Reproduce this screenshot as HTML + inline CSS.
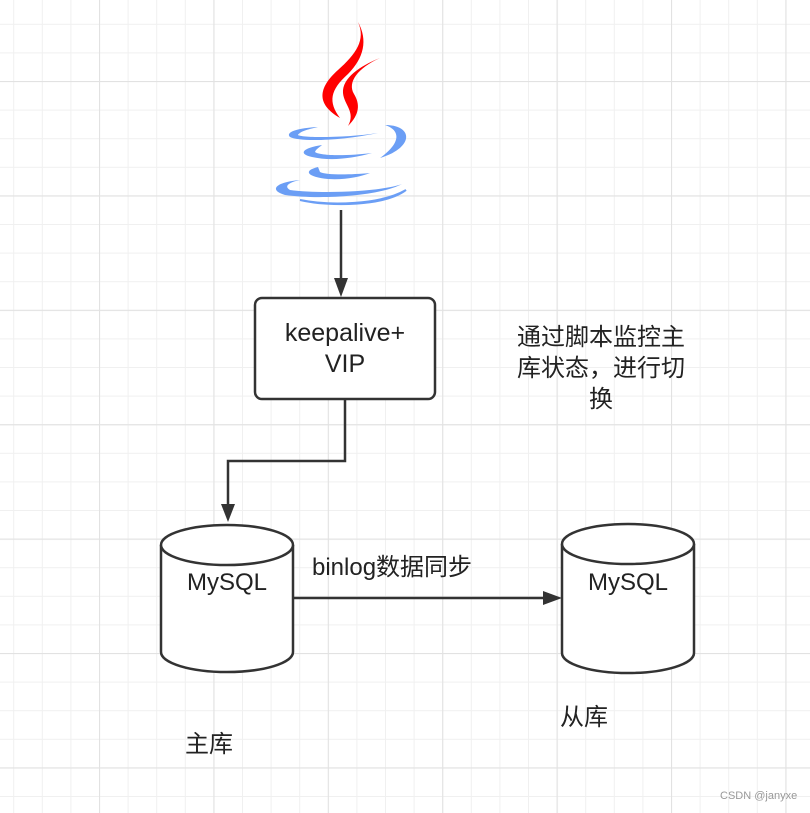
<!DOCTYPE html>
<html><head><meta charset="utf-8"><style>
html,body{margin:0;padding:0;background:#fff;}
body{width:810px;height:813px;overflow:hidden;position:relative;font-family:"Liberation Sans","Noto Sans CJK SC",sans-serif;color:#222;}
.t{position:absolute;white-space:nowrap;}
</style></head><body>
<svg width="810" height="813" style="position:absolute;left:0;top:0">
<defs>
<pattern id="minor" x="13.2" y="23.8" width="28.6" height="28.6" patternUnits="userSpaceOnUse">
<path d="M0 0H28.6M0 0V28.6" stroke="#f0f0f0" stroke-width="2" fill="none"/>
</pattern>
<pattern id="major" x="99" y="81" width="114.4" height="114.4" patternUnits="userSpaceOnUse">
<path d="M0 0H114.4M0 0V114.4" stroke="#e2e2e2" stroke-width="2.2" fill="none"/>
</pattern>
</defs>
<rect width="810" height="813" fill="url(#minor)"/>
<rect width="810" height="813" fill="url(#major)"/>

<!-- java logo flames -->
<path d="M358 22 C366 40 356 54 338 70 C318 88 316 104 340 118 C328 102 330 90 348 74 C364 58 368 40 358 22Z" fill="#f00"/>
<path d="M380 58 C360 66 342 78 343 93 C344 105 356 112 348 126 C360 114 360 104 354 94 C347 82 358 68 380 58Z" fill="#f00"/>
<!-- cup -->
<path d="M318 127 C298 128 285 132 290 137 C300 142 340 141 378 133 C345 138 302 138 298 135 C300 131 310 129 318 127Z" fill="#6b9ef5"/>
<path d="M385 125 C414 125 414 148 380 158 C402 142 400 130 385 125Z" fill="#6b9ef5"/>
<path d="M322 145 C302 148 298 154 312 157 C330 161 350 159 372 153 C348 156 320 156 315 152 C316 149 320 147 322 145Z" fill="#6b9ef5"/>
<path d="M318 167 C302 171 308 177 328 179 C345 180 360 177 370 173 C348 175 326 175 320 172Z" fill="#6b9ef5"/>
<path d="M300 180 C276 182 268 190 285 195 C320 200 380 196 402 184 C380 192 320 194 290 190 C283 186 290 182 300 180Z" fill="#6b9ef5"/>
<path d="M300 200 C330 206 380 205 406 190 C385 206 330 207 300 200Z" fill="#6b9ef5" stroke="#6b9ef5" stroke-width="2"/>

<g stroke="#333" stroke-width="2.5" fill="none">
<path d="M341 210 V280"/>
<path d="M345 399 V461 H228 V506"/>
<path d="M293 598 H546"/>
</g>
<path d="M334 278 L341 297 L348 278Z" fill="#333"/>
<path d="M221 504 L228 522 L235 504Z" fill="#333"/>
<path d="M543 591 L562 598 L543 605Z" fill="#333"/>

<rect x="255" y="298" width="180" height="101" rx="7" fill="#fff" stroke="#333" stroke-width="2.5"/>

<g fill="#fff" stroke="#333" stroke-width="2.5">
<path d="M161 545 V652 A66 20 0 0 0 293 652 V545"/>
<ellipse cx="227" cy="545" rx="66" ry="20"/>
<path d="M562 544 V653 A66 20 0 0 0 694 653 V544"/>
<ellipse cx="628" cy="544" rx="66" ry="20"/>
</g>
</svg>
<div class="t" style="left:255px;top:318px;width:180px;text-align:center;font-size:25px;line-height:31px;">keepalive+<br>VIP</div>
<div class="t" style="left:161px;top:569px;width:132px;text-align:center;font-size:24px;">MySQL</div>
<div class="t" style="left:562px;top:569px;width:132px;text-align:center;font-size:24px;">MySQL</div>
<div class="t" style="left:312px;top:547px;font-size:24px;">binlog数据同步</div>
<div class="t" style="left:513px;top:322px;width:176px;text-align:center;font-size:24px;line-height:31px;letter-spacing:0px;white-space:normal;">通过脚本监控主库状态，进行切换</div>
<div class="t" style="left:185px;top:724px;font-size:24px;">主库</div>
<div class="t" style="left:560px;top:697px;font-size:24px;">从库</div>
<div class="t" style="left:720px;top:790px;font-size:11px;color:#999;">CSDN @janyxe</div>
</body></html>
